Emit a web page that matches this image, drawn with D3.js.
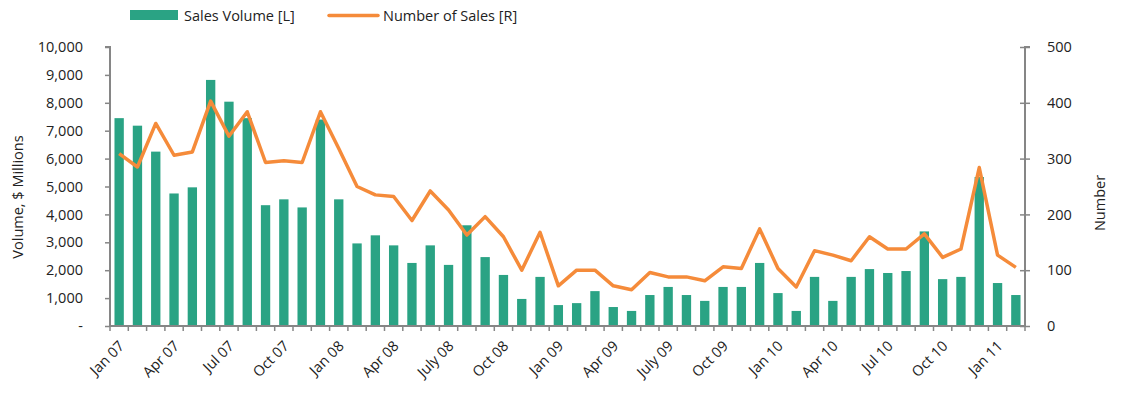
<!DOCTYPE html>
<html>
<head>
<meta charset="utf-8">
<script src="https://cdn.jsdelivr.net/npm/d3@7"></script>
<style>
  body { margin: 0; background: #fff; }
  svg text { font-family: "Open Sans", "Noto Sans", sans-serif; fill: #222; }
</style>
</head>
<body>
<svg id="chart" width="1123" height="400"></svg>
<script>
const width = 1123;
const height = 400;

// months Jan 07 .. Feb 11
const months = [
  "Jan 07","Feb 07","Mar 07","Apr 07","May 07","Jun 07","Jul 07","Aug 07","Sep 07","Oct 07","Nov 07","Dec 07",
  "Jan 08","Feb 08","Mar 08","Apr 08","May 08","Jun 08","July 08","Aug 08","Sep 08","Oct 08","Nov 08","Dec 08",
  "Jan 09","Feb 09","Mar 09","Apr 09","May 09","Jun 09","July 09","Aug 09","Sep 09","Oct 09","Nov 09","Dec 09",
  "Jan 10","Feb 10","Mar 10","Apr 10","May 10","Jun 10","Jul 10","Aug 10","Sep 10","Oct 10","Nov 10","Dec 10",
  "Jan 11","Feb 11"
];

// Sales volume, $ millions (left axis)
const salesVolume = [
  7450, 7180, 6250, 4750, 4970, 8820, 8040, 7450, 4330, 4540, 4250, 7400,
  4540, 2960, 3250, 2890, 2260, 2890, 2190, 3610, 2470, 1830, 970, 1760,
  750, 820, 1250, 680, 540, 1110, 1400, 1110, 900, 1400, 1400, 2260,
  1180, 540, 1760, 900, 1760, 2040, 1900, 1970, 3390, 1680, 1760, 5340,
  1540, 1110
];

// Number of sales (right axis)
const numberOfSales = [
  309, 285, 363, 306, 312, 403, 340, 384, 293, 296, 293, 384,
  318, 250, 235, 232, 189, 242, 208, 163, 196, 160, 100, 168,
  72, 100, 100, 72, 65, 96, 88, 88, 81, 106, 103, 174,
  103, 70, 135, 127, 117, 160, 138, 138, 165, 123, 138, 284,
  127, 105
];

const leftTicks = [0, 1000, 2000, 3000, 4000, 5000, 6000, 7000, 8000, 9000, 10000];
const rightTicks = [0, 100, 200, 300, 400, 500];

const barColor = "#2aa384";
const lineColor = "#f58b3a";
const axisColor = "#868686";
const fontSize = 14.5;

const margin = { top: 47, right: 98, bottom: 74, left: 110 };
const innerW = width - margin.left - margin.right;
const innerH = height - margin.top - margin.bottom;

const svg = d3.select("#chart");
const g = svg.append("g").attr("transform", `translate(${margin.left},${margin.top})`);

const x = d3.scaleBand().domain(months).range([0, innerW]).paddingInner(0.49).paddingOuter(0.245);
const xEdge = d3.scaleLinear().domain([0, months.length]).range([0, innerW]);
const yL = d3.scaleLinear().domain([0, 10000]).range([innerH, 0]);
const yR = d3.scaleLinear().domain([0, 500]).range([innerH, 0]);

// bars
g.selectAll("rect.bar")
  .data(salesVolume)
  .enter().append("rect")
  .attr("class", "bar")
  .attr("x", (d, i) => x(months[i]))
  .attr("width", x.bandwidth())
  .attr("y", d => yL(d))
  .attr("height", d => innerH - yL(d))
  .attr("fill", barColor);

// line
const line = d3.line()
  .x((d, i) => x(months[i]) + x.bandwidth() / 2)
  .y(d => yR(d));

g.append("path")
  .datum(numberOfSales)
  .attr("d", line)
  .attr("fill", "none")
  .attr("stroke", lineColor)
  .attr("stroke-width", 3.5)
  .attr("stroke-linejoin", "round");

// left axis
const leftAxis = g.append("g")
  .call(d3.axisLeft(yL).tickValues(leftTicks).tickSize(5).tickPadding(22)
    .tickFormat(d => d === 0 ? "-" : d3.format(",")(d)));
leftAxis.selectAll("text").attr("font-size", fontSize);

// right axis
const rightAxis = g.append("g")
  .attr("transform", `translate(${innerW},0)`)
  .call(d3.axisRight(yR).tickValues(rightTicks).tickSize(5).tickPadding(17));
rightAxis.selectAll("text").attr("font-size", fontSize);
rightAxis.selectAll(".tick line").attr("x1", -5);

// bottom axis: ticks at band edges
const bottom = g.append("g").attr("transform", `translate(0,${innerH})`);
bottom.append("line")
  .attr("x1", 0).attr("x2", innerW)
  .attr("stroke", axisColor).attr("stroke-width", 2);
bottom.selectAll("line.tk")
  .data(d3.range(months.length + 1))
  .enter().append("line")
  .attr("class", "tk")
  .attr("x1", d => xEdge(d)).attr("x2", d => xEdge(d))
  .attr("y1", 0).attr("y2", 5)
  .attr("stroke", axisColor).attr("stroke-width", 1.5);

bottom.selectAll("text.lbl")
  .data(months.filter((m, i) => i % 3 === 0))
  .enter().append("text")
  .attr("class", "lbl")
  .attr("font-size", fontSize)
  .attr("text-anchor", "end")
  .attr("transform", d => `translate(${x(d) + x.bandwidth() / 2 + 6},${21}) rotate(-45)`)
  .text(d => d);

[leftAxis, rightAxis].forEach(a => {
  a.select(".domain").attr("stroke", axisColor).attr("stroke-width", 2);
  a.selectAll(".tick line").attr("stroke", axisColor).attr("stroke-width", 1.5);
});
leftAxis.select(".domain").attr("d", `M-5,0H0V${innerH}`);
rightAxis.select(".domain").attr("d", `M5,0H0V${innerH}`);

// axis titles
svg.append("text")
  .attr("transform", `translate(23,${197}) rotate(-90)`)
  .attr("text-anchor", "middle")
  .attr("font-size", fontSize)
  .text("Volume, $ Millions");

svg.append("text")
  .attr("transform", `translate(1105,${203}) rotate(-90)`)
  .attr("text-anchor", "middle")
  .attr("font-size", fontSize)
  .text("Number");

// legend
const legend = svg.append("g");
legend.append("rect")
  .attr("x", 130).attr("y", 10).attr("width", 48).attr("height", 10)
  .attr("fill", barColor);
legend.append("text")
  .attr("x", 184).attr("y", 20.5).attr("font-size", fontSize)
  .text("Sales Volume [L]");
legend.append("line")
  .attr("x1", 329).attr("x2", 378).attr("y1", 15.5).attr("y2", 15.5)
  .attr("stroke", lineColor).attr("stroke-width", 3.5).attr("stroke-linecap", "round");
legend.append("text")
  .attr("x", 383).attr("y", 20.5).attr("font-size", fontSize)
  .text("Number of Sales  [R]");
</script>
</body>
</html>
